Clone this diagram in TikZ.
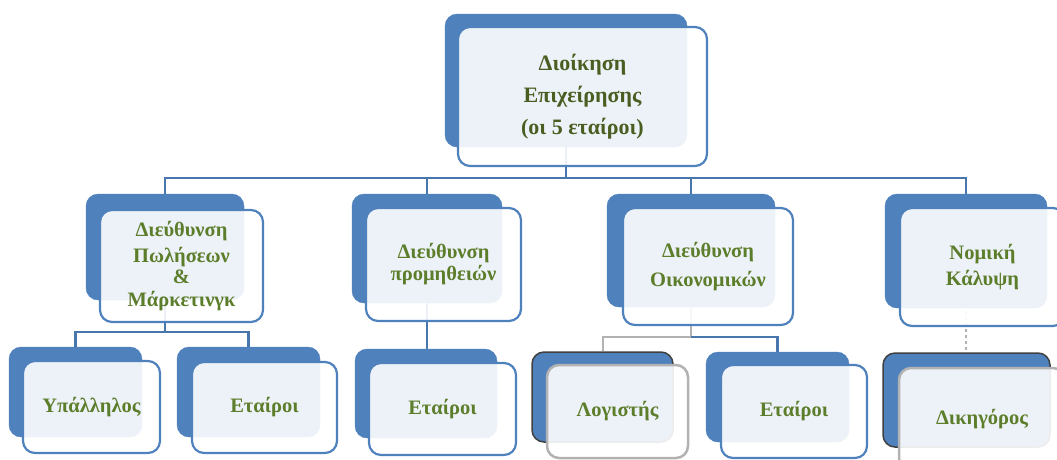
\documentclass[tikz,border=0pt]{standalone}
\usepackage{fontspec}
\setmainfont{Liberation Serif}
\usetikzlibrary{backgrounds}
\definecolor{boxblue}{HTML}{4F81BD}
\definecolor{linkblue}{HTML}{4A76AE}
\definecolor{leafgreen}{HTML}{5C7D2A}
\definecolor{headgreen}{HTML}{4A5E22}
\begin{document}
\begin{tikzpicture}[x=1pt, y=-1pt,
  backbox/.style={draw=boxblue, fill=boxblue, rounded corners=12pt, inner sep=0pt},
  frontbox/.style={draw=boxblue, line width=2.2pt, fill=white, fill opacity=0.9, text opacity=1, rounded corners=12pt, inner sep=0pt, align=center, text=leafgreen, font=\bfseries\fontsize{20.5}{22}\selectfont},
  steelback/.style={backbox, draw=gray!50!black, line width=1.5pt},
  steelfront/.style={frontbox, draw=gray!60, line width=2.5pt},
  link/.style={draw=linkblue, line width=2.6pt},
  steellink/.style={draw=gray!60, line width=2pt}]
\useasboundingbox (0,0) rectangle (1057,459);
\clip (0,0) rectangle (1057,459);
% top of the chart
\node[backbox, minimum width=242pt, minimum height=133pt] (topB) at (566,80.5) {};
\node[frontbox, minimum width=249pt, minimum height=139pt, text=headgreen, font=\bfseries\fontsize{22}{32}\selectfont] (topF) at (582.5,96.5) {Διοίκηση\\Επιχείρησης\\(οι 5 εταίροι)};
% departments
\node[backbox, minimum width=158pt, minimum height=106pt] (salesB) at (165,247) {};
\node[frontbox, minimum width=163pt, minimum height=112pt] (salesF) at (181.5,266) {Διεύθυνση\\[4pt]Πωλήσεων\\[-1pt]\&\\[1pt]Μάρκετινγκ};
\node[backbox, minimum width=150pt, minimum height=109pt] (supplyB) at (427,248.5) {};
\node[frontbox, minimum width=155pt, minimum height=113pt] (supplyF) at (443.5,264.5) {Διεύθυνση\\προμηθειών};
\node[backbox, minimum width=168pt, minimum height=113pt] (financeB) at (691,250.5) {};
\node[frontbox, minimum width=170pt, minimum height=117pt] (financeF) at (708,266.5) {Διεύθυνση\\[7pt]Οικονομικών};
\node[backbox, minimum width=162pt, minimum height=114pt] (legalB) at (966,251) {};
\node[frontbox, minimum width=165pt, minimum height=118pt] (legalF) at (982.5,267) {Νομική\\[4pt]Κάλυψη};
% staff
\node[backbox, minimum width=133pt, minimum height=90pt] (clerkB) at (75.5,392) {};
\node[frontbox, minimum width=137pt, minimum height=92pt] (clerkF) at (91.5,407) {Υπάλληλος};
\node[backbox, minimum width=143pt, minimum height=90pt] (partnersAB) at (248.5,392) {};
\node[frontbox, minimum width=145pt, minimum height=91pt] (partnersAF) at (264.5,407.5) {Εταίροι};
\node[backbox, minimum width=142pt, minimum height=89pt] (partnersBB) at (426,393.5) {};
\node[frontbox, minimum width=147pt, minimum height=92pt] (partnersBF) at (442.5,409) {Εταίροι};
\node[steelback, minimum width=141pt, minimum height=90pt] (accountantB) at (602.5,397) {};
\node[steelfront, minimum width=141pt, minimum height=93pt] (accountantF) at (617.5,411.5) {Λογιστής};
\node[backbox, minimum width=143pt, minimum height=90pt] (partnersCB) at (777.5,397) {};
\node[frontbox, minimum width=146pt, minimum height=93pt] (partnersCF) at (794,411.5) {Εταίροι};
\node[steelback, minimum width=167pt, minimum height=94pt] (lawyerB) at (966.5,400) {};
\node[steelfront, minimum width=166pt, minimum height=102pt] (lawyerF) at (982,419) {Δικηγόρος};
\coordinate (busA) at (0,178);
\coordinate (busB) at (0,332);
\coordinate (busC) at (0,337);
\begin{scope}[on background layer]
\draw[link] (topB.center) -- (topB.center |- busA) -| (salesB.north);
\draw[link] (topB.center) -- (topB.center |- busA) -| (supplyB.north);
\draw[link] (topB.center) -- (topB.center |- busA) -| (financeB.north);
\draw[link] (topB.center) -- (topB.center |- busA) -| (legalB.north);
\draw[link] (salesB.center) -- (salesB.center |- busB) -| (clerkB.north);
\draw[link] (salesB.center) -- (salesB.center |- busB) -| (partnersAB.north);
\draw[link] (supplyB.center) -- (supplyB.center |- partnersBB.north);
\draw[steellink] (financeB.center) -- (financeB.center |- busC) -| (accountantB.north);
\draw[link] (financeB.center |- busC) -| (partnersCB.north);
\draw[steellink, dashed] (legalB.center) -- (legalB.center |- lawyerB.north);
\end{scope}
\end{tikzpicture}
\end{document}
